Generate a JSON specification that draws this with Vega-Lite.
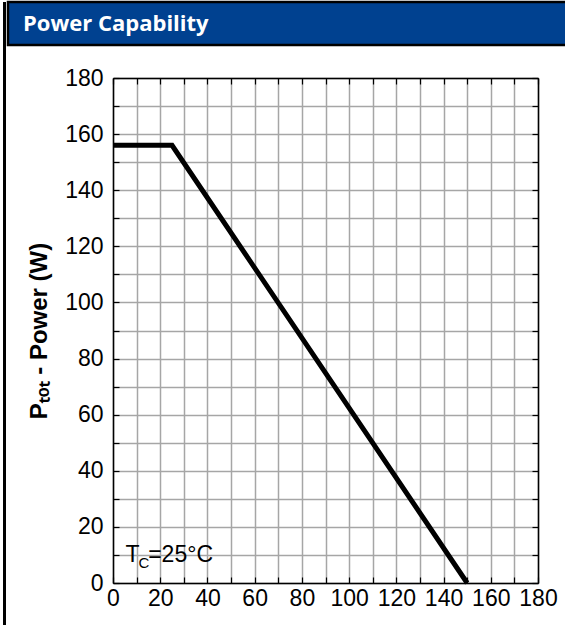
{
  "$schema": "https://vega.github.io/schema/vega-lite/v6.json",
  "padding": {"left": 3, "top": 0, "right": 0, "bottom": 0},
  "background": "white",
  "config": {"view": {"stroke": null}},
  "concat": [
    {
      "width": 3,
      "height": 640,
      "view": {"fill": "black", "stroke": null},
      "data": {"values": [{}]},
      "mark": {"type": "text", "text": ""},
      "encoding": {}
    },
    {
      "concat": [
        {
          "width": 560,
          "height": 43,
          "view": {"fill": "#004190", "stroke": "black", "strokeWidth": 2.5},
          "data": {"values": [{"label": "Power Capability"}]},
          "mark": {"type": "text", "font": "Open Sans", "fontWeight": "bold", "fontSize": 22, "color": "white", "align": "left", "baseline": "middle", "dx": 15},
          "encoding": {
            "text": {"field": "label", "type": "nominal"},
            "x": {"datum": 0, "type": "quantitative", "scale": {"domain": [0, 1]}, "axis": null}
          }
        },
        {
          "width": 530,
          "height": 505,
          "view": {"stroke": null},
          "data": {"values": [{"t": 0, "p": 156}, {"t": 25, "p": 156}, {"t": 150, "p": 0}]},
          "layer": [
            {
              "mark": {"type": "line", "color": "black", "strokeWidth": 5},
              "encoding": {
                "x": {
                  "field": "t", "type": "quantitative",
                  "scale": {"domain": [0, 180], "nice": false, "range": [105, 530]},
                  "axis": {
                    "orient": "bottom",
                    "values": [0,10,20,30,40,50,60,70,80,90,100,110,120,130,140,150,160,170,180],
                    "labelExpr": "datum.value % 20 === 0 ? datum.label : ''",
                    "grid": true, "gridColor": "#a6a6a6", "gridWidth": 1.5, "gridOpacity": 1,
                    "domain": true, "domainColor": "black", "domainWidth": 1.5,
                    "ticks": true, "tickSize": -6, "tickColor": "black", "tickWidth": 1.2,
                    "labelFont": "Liberation Sans", "labelFontSize": 23, "labelColor": "black",
                    "labelPadding": 10, "labelFlush": false, "labelOverlap": false,
                    "title": null
                  }
                },
                "y": {
                  "field": "p", "type": "quantitative",
                  "scale": {"domain": [0, 180], "nice": false},
                  "axis": {
                    "orient": "left", "offset": -105,
                    "values": [0,10,20,30,40,50,60,70,80,90,100,110,120,130,140,150,160,170,180],
                    "labelExpr": "datum.value % 20 === 0 ? datum.label : ''",
                    "grid": true, "gridColor": "#a6a6a6", "gridWidth": 1.5, "gridOpacity": 1,
                    "domain": true, "domainColor": "black", "domainWidth": 1.5,
                    "ticks": true, "tickSize": -6, "tickColor": "black", "tickWidth": 1.2,
                    "labelFont": "Liberation Sans", "labelFontSize": 23, "labelColor": "black",
                    "labelPadding": 16, "labelFlush": false, "labelOverlap": false,
                    "title": "Pₜₒₜ - Power (W)",
                    "titleFont": "Liberation Sans", "titleFontWeight": "bold", "titleFontSize": 24,
                    "titleColor": "black", "titlePadding": 13
                  }
                }
              }
            },
            {
              "mark": {"type": "line", "opacity": 0},
              "encoding": {
                "x": {
                  "field": "t", "type": "quantitative",
                  "scale": {"domain": [0, 180], "nice": false, "range": [105, 530]},
                  "axis": {
                    "orient": "top",
                    "values": [0,10,20,30,40,50,60,70,80,90,100,110,120,130,140,150,160,170,180],
                    "labels": false, "grid": false,
                    "domain": true, "domainColor": "black", "domainWidth": 1.5,
                    "ticks": true, "tickSize": -6, "tickColor": "black", "tickWidth": 1.2,
                    "title": null
                  }
                },
                "y": {
                  "field": "p", "type": "quantitative",
                  "scale": {"domain": [0, 180], "nice": false},
                  "axis": {
                    "orient": "right",
                    "values": [0,10,20,30,40,50,60,70,80,90,100,110,120,130,140,150,160,170,180],
                    "labels": false, "grid": false,
                    "domain": true, "domainColor": "black", "domainWidth": 1.5,
                    "ticks": true, "tickSize": -6, "tickColor": "black", "tickWidth": 1.2,
                    "title": null
                  }
                }
              }
            },
            {
              "data": {"values": [{"label": "T"}]},
              "mark": {"type": "text", "font": "Liberation Sans", "fontSize": 23, "color": "black", "align": "left", "baseline": "alphabetic"},
              "encoding": {
                "text": {"field": "label", "type": "nominal"},
                "x": {"datum": 5.3, "type": "quantitative", "axis": null},
                "y": {"datum": 7.5, "type": "quantitative", "axis": null}
              }
            },
            {
              "data": {"values": [{"label": "C"}]},
              "mark": {"type": "text", "font": "Liberation Sans", "fontSize": 15, "color": "black", "align": "left", "baseline": "alphabetic"},
              "encoding": {
                "text": {"field": "label", "type": "nominal"},
                "x": {"datum": 10.8, "type": "quantitative", "axis": null},
                "y": {"datum": 5.3, "type": "quantitative", "axis": null}
              }
            },
            {
              "data": {"values": [{"label": "=25°C"}]},
              "mark": {"type": "text", "font": "Liberation Sans", "fontSize": 23, "color": "black", "align": "left", "baseline": "alphabetic"},
              "encoding": {
                "text": {"field": "label", "type": "nominal"},
                "x": {"datum": 14.9, "type": "quantitative", "axis": null},
                "y": {"datum": 7.5, "type": "quantitative", "axis": null}
              }
            }
          ],
          "resolve": {"axis": {"x": "independent", "y": "independent"}}
        }
      ],
      "columns": 1,
      "align": "none",
      "spacing": 20
    }
  ],
  "columns": 2,
  "align": "none",
  "spacing": 0
}
